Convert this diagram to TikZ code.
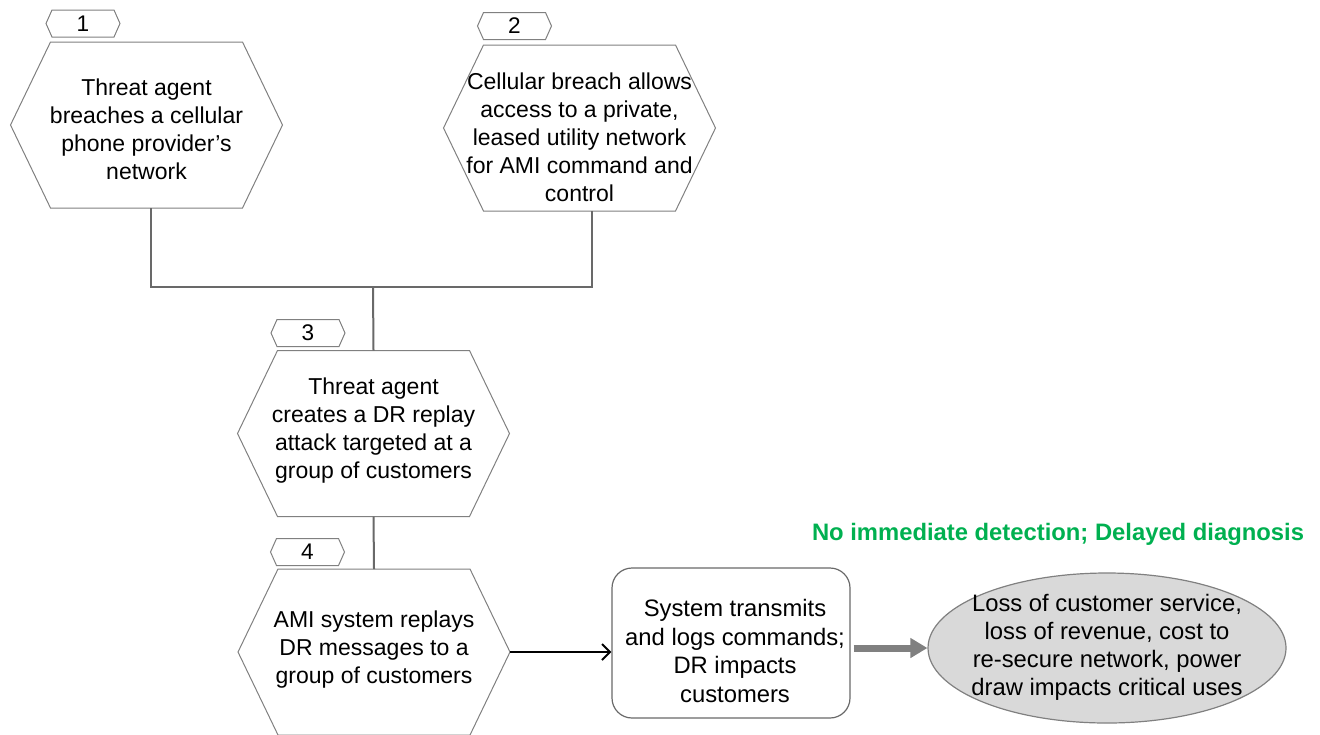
\documentclass[tikz,border=0pt]{standalone}
\usepackage{fontspec}
\setmainfont{Liberation Sans}
\usetikzlibrary{arrows.meta,shapes.geometric}

\definecolor{edgegray}{RGB}{128,128,128}
\definecolor{wiregray}{RGB}{105,105,105}
\definecolor{lossgray}{RGB}{217,217,217}
\definecolor{notegreen}{RGB}{0,176,80}

% hexagon round a node: flat top and bottom, points left and right
\newcommand{\hexrim}[2]{%
\draw[rim] (#1.north west) -- (#1.north east) -- ([xshift=#2]#1.east) --
  (#1.south east) -- (#1.south west) -- ([xshift=-#2]#1.west) -- cycle;}
% text that may run over the border of its shape
\newcommand{\freetext}[2][0pt]{\makebox[0pt]{\smash{\raisebox{#1}{\begin{tabular}{@{}c@{}}#2\end{tabular}}}}}

\tikzset{
  rim/.style={draw=edgegray, line width=0.5pt},
  hexnode/.style={inner sep=0pt, outer sep=0pt,
    minimum width=96pt, minimum height=83pt, font=\fontsize{11.5}{14}\selectfont},
  tabnode/.style={inner sep=0pt, outer sep=0pt,
    minimum width=31pt, minimum height=13.5pt, font=\fontsize{11.3}{14}\selectfont},
  wire/.style={draw=wiregray, line width=1pt},
}

\begin{document}
\begin{tikzpicture}[x=0.5pt, y=-0.5pt]
\useasboundingbox (0,0) rectangle (1320,734);

% steps
\node[hexnode] (hex1) at (146.5,125) {\freetext[-6.6pt]{Threat agent\\breaches a cellular\\phone provider’s\\network}};
\node[hexnode] (hex2) at (579.5,128) {\freetext[-9.1pt]{Cellular breach allows\\access to a private,\\leased utility network\\for AMI command and\\control}};
\node[hexnode] (hex3) at (373.5,433.5) {\freetext[-1.9pt]{Threat agent\\creates a DR replay\\attack targeted at a\\group of customers}};
\node[hexnode] (hex4) at (374,652) {\freetext[-2.1pt]{AMI system replays\\DR messages to a\\group of customers}};
\hexrim{hex1}{20pt}
\hexrim{hex2}{20pt}
\hexrim{hex3}{20pt}
\hexrim{hex4}{20pt}

% numbers
\node[tabnode] (tab1) at (83,23.5) {1};
\node[tabnode] (tab2) at (514.5,26) {2};
\node[tabnode] (tab3) at (308,333) {3};
\node[tabnode] (tab4) at (307.5,552) {4};
\hexrim{tab1}{3pt}
\hexrim{tab2}{3pt}
\hexrim{tab3}{3pt}
\hexrim{tab4}{3pt}

% outcome
\node[draw=wiregray, line width=0.6pt, rounded corners=10pt, minimum width=119pt,
  minimum height=75pt, inner sep=0pt, font=\fontsize{11.9}{14.25}\selectfont]
  (sys) at (731,643) {\freetext[-8.5pt]{\hspace*{4pt}System transmits\\\hspace*{4pt}and logs commands;\\\hspace*{4pt}DR impacts\\\hspace*{4pt}customers}};
\node[ellipse, draw=edgegray, line width=0.6pt, fill=lossgray, minimum width=179pt,
  minimum height=75pt, inner sep=0pt, font=\fontsize{11.9}{14}\selectfont]
  (loss) at (1107,648) {\freetext[-3.1pt]{Loss of customer service,\\loss of revenue, cost to\\re-secure network, power\\draw impacts critical uses}};
\node[text=notegreen, font=\fontsize{11.9}{14}\selectfont\bfseries] (note) at (1058,534)
  {No immediate detection; Delayed diagnosis};

% connectors
\coordinate (join) at (373,287);
\coordinate (hex4tip) at ([xshift=20pt]hex4.east);
\draw[wire] ([xshift=2pt]hex1.south) |- (join);
\draw[wire] ([xshift=6pt]hex2.south) |- (join);
\draw[wire] (join) -- (hex3.north);
\draw[wire] (hex3.south) -- (hex4.north);
\draw[-{Straight Barb[length=4pt,width=8pt]}, line width=1pt] (hex4tip) -- (hex4tip -| sys.west);
\draw[-{Triangle[length=8.5pt,width=9.5pt]}, draw=edgegray, fill=edgegray, line width=3.5pt]
  ([xshift=1.5pt]loss.west -| sys.east) -- (loss.west);
\end{tikzpicture}
\end{document}
